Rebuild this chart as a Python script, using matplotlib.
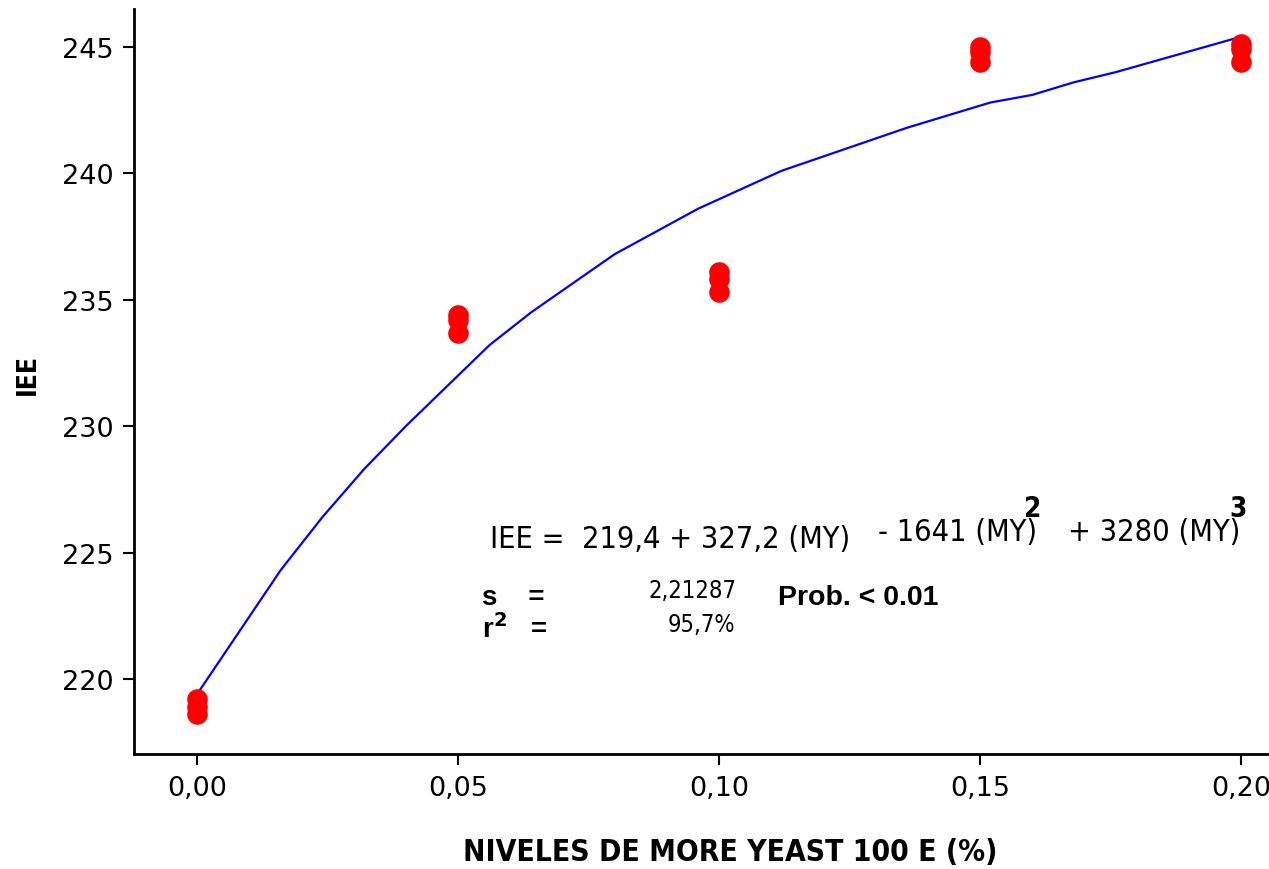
import matplotlib.pyplot as plt

W, H = 1269, 870

# observaciones (niveles de More Yeast vs IEE)
x_obs = [0.00, 0.00, 0.00, 0.05, 0.05, 0.05, 0.10, 0.10, 0.10,
         0.15, 0.15, 0.15, 0.20, 0.20, 0.20]
y_obs = [219.2, 218.9, 218.6, 234.4, 234.2, 233.7, 236.1, 235.8, 235.3,
         245.0, 244.8, 244.4, 245.1, 244.9, 244.4]

# curva ajustada (vertices)
x_fit = [0.000, 0.016, 0.024, 0.032, 0.040, 0.056, 0.064, 0.080, 0.096,
         0.112, 0.136, 0.152, 0.160, 0.168, 0.176, 0.200]
y_fit = [219.4, 224.3, 226.4, 228.3, 230.0, 233.2, 234.5, 236.8, 238.6,
         240.1, 241.8, 242.8, 243.1, 243.6, 244.0, 245.4]

xticks = [0.00, 0.05, 0.10, 0.15, 0.20]
xtick_labels = ['0,00', '0,05', '0,10', '0,15', '0,20']
yticks = [220, 225, 230, 235, 240, 245]

arial = ['Liberation Sans', 'DejaVu Sans']
cond = dict(family='DejaVu Sans', stretch='condensed')

fig = plt.figure(figsize=(W / 100, H / 100), dpi=100)
ax = fig.add_axes([134 / W, 1 - 755 / H, 1 - 134 / W, (755 - 10) / H])

ax.plot(x_fit, y_fit, color='blue', lw=1.6, zorder=2)
ax.scatter(x_obs, y_obs, s=220, color='red', zorder=3, linewidths=0)

ax.set_xlim(-0.0121, 0.2054)
ax.set_ylim(217.03, 246.5)
ax.set_xticks(xticks)
ax.set_xticklabels(xtick_labels)
ax.set_yticks(yticks)
ax.tick_params(labelsize=19.5, length=8, width=1.5, direction='out', pad=7)
for s in ['top', 'right']:
    ax.spines[s].set_visible(False)
for s in ['left', 'bottom']:
    ax.spines[s].set_linewidth(2)

fig.text(730 / W, 1 - 853 / H, 'NIVELES DE MORE YEAST 100 E (%)',
         ha='center', va='center', fontsize=21.5, fontweight='bold',
         **cond)
fig.text(28 / W, 1 - 375 / H, 'IEE', rotation=90, ha='center', va='center',
         fontsize=19, fontweight='bold', **cond)

# ecuacion
fig.text(490 / W, 1 - 548 / H, 'IEE =  219,4 + 327,2 (MY)',
         fontsize=22, va='baseline', **cond)
fig.text(878 / W, 1 - 541 / H, '- 1641 (MY)',
         fontsize=22, va='baseline', **cond)
fig.text(1068 / W, 1 - 541 / H, '+ 3280 (MY)',
         fontsize=22, va='baseline', **cond)
fig.text(1024 / W, 1 - 517 / H, '2', fontsize=20,
         fontweight='bold', va='baseline', **cond)
fig.text(1229 / W, 1 - 517 / H, '3', fontsize=20,
         fontweight='bold', va='baseline', **cond)

fig.text(482 / W, 1 - 605 / H, 's    =', fontsize=20, fontweight='bold',
         family=arial, va='baseline')
fig.text(482 / W, 1 - 638 / H, r'r$^\mathbf{2}$   =', fontsize=20,
         fontweight='bold', family=arial, va='baseline')
fig.text(737 / W, 1 - 598 / H, '2,21287', fontsize=17,
         ha='right', va='baseline', **cond)
fig.text(735 / W, 1 - 632 / H, '95,7%', fontsize=17,
         ha='right', va='baseline', **cond)
fig.text(778 / W, 1 - 605 / H, 'Prob. < 0.01', fontsize=20.5,
         fontweight='bold', family=arial, va='baseline')

fig.savefig('out.png', dpi=100)
